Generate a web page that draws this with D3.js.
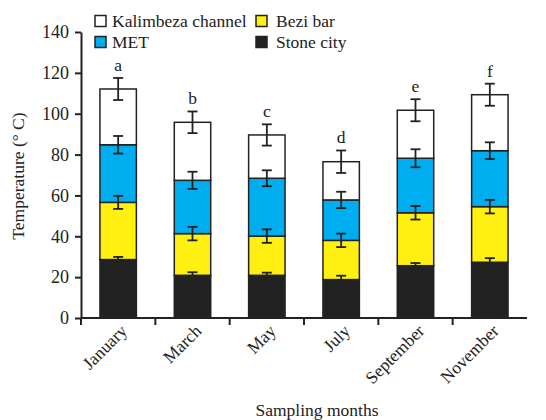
<!DOCTYPE html>
<html>
<head>
<meta charset="utf-8">
<script src="https://cdn.jsdelivr.net/npm/d3@7"></script>
<style>
  body { margin: 0; background: #fff; }
</style>
</head>
<body>
<svg id="chart" width="546" height="420"></svg>
<script>
// months on the x axis
const months = ["January", "March", "May", "July", "September", "November"];
// stacked from the bottom up
const seriesNames = ["Stone city", "Bezi bar", "MET", "Kalimbeza channel"];
const stoneCity = [28.6, 20.9, 20.9, 18.8, 25.6, 27.3];
const beziBar = [28.0, 20.4, 19.2, 19.2, 25.9, 27.2];
const met = [28.2, 26.1, 28.3, 19.8, 26.7, 27.4];
const kalimbeza = [27.3, 28.4, 21.2, 18.7, 23.5, 27.4];
// error bar half lengths
const stoneErr = [1.3, 1.5, 1.3, 1.9, 1.3, 2.0];
const beziErr = [3.2, 3.3, 3.3, 3.3, 3.3, 3.3];
const metErr = [4.3, 4.2, 3.9, 4.0, 4.4, 4.1];
const kalErr = [5.4, 5.3, 5.2, 5.5, 5.4, 5.4];
const letters = ["a", "b", "c", "d", "e", "f"];
const yTicks = [0, 20, 40, 60, 80, 100, 120, 140];

const FONT = "'Liberation Serif', 'Times New Roman', serif";
const INK = "#222";

const colors = {
  "Stone city": "#222222",
  "Bezi bar": "#fff011",
  "MET": "#00aeef",
  "Kalimbeza channel": "#ffffff"
};

const values = [stoneCity, beziBar, met, kalimbeza];
const errs = [stoneErr, beziErr, metErr, kalErr];

const rows = months.map((m, i) => {
  const r = { month: m };
  seriesNames.forEach((s, k) => { r[s] = values[k][i]; });
  return r;
});

const stack = d3.stack().keys(seriesNames)(rows);

const margin = { left: 81, right: 19, top: 32, bottom: 102 };
const width = 546, height = 420;
const svg = d3.select("#chart");

const x = d3.scaleBand()
  .domain(months)
  .range([margin.left, width - margin.right])
  .paddingInner(0.51)
  .paddingOuter(0.255);

const y = d3.scaleLinear()
  .domain([0, 140])
  .range([height - margin.bottom, margin.top]);

// bars
stack.forEach((layer) => {
  svg.append("g")
    .selectAll("rect")
    .data(layer)
    .enter()
    .append("rect")
    .attr("x", (d) => x(d.data.month))
    .attr("y", (d) => y(d[1]))
    .attr("width", x.bandwidth())
    .attr("height", (d) => y(d[0]) - y(d[1]))
    .attr("fill", colors[layer.key])
    .attr("stroke", INK)
    .attr("stroke-width", 1.5);
});

// error bars on top of every segment
const capW = 5;
stack.forEach((layer, k) => {
  const g = svg.append("g").attr("stroke", INK).attr("stroke-width", 1.8);
  layer.forEach((d, i) => {
    const cx = x(d.data.month) + x.bandwidth() / 2;
    const hi = y(d[1] + errs[k][i]);
    const lo = y(d[1] - errs[k][i]);
    g.append("line").attr("x1", cx).attr("x2", cx).attr("y1", hi).attr("y2", lo);
    g.append("line").attr("x1", cx - capW).attr("x2", cx + capW).attr("y1", hi).attr("y2", hi);
    g.append("line").attr("x1", cx - capW).attr("x2", cx + capW).attr("y1", lo).attr("y2", lo);
  });
});

// significance letters
const topLayer = stack[stack.length - 1];
svg.append("g")
  .selectAll("text")
  .data(topLayer)
  .enter()
  .append("text")
  .attr("x", (d) => x(d.data.month) + x.bandwidth() / 2)
  .attr("y", (d, i) => y(d[1] + kalErr[i]) - 7)
  .attr("text-anchor", "middle")
  .style("font-family", FONT)
  .style("font-size", "17.5px")
  .style("fill", INK)
  .text((d, i) => letters[i]);

// y axis
const yAxis = svg.append("g")
  .attr("transform", `translate(${margin.left},0)`)
  .call(d3.axisLeft(y).tickValues(yTicks).tickSize(6).tickPadding(6).tickSizeOuter(0));
yAxis.select(".domain").attr("stroke", INK).attr("stroke-width", 2);
yAxis.selectAll(".tick line").attr("stroke", INK).attr("stroke-width", 2);
yAxis.selectAll("text")
  .style("font-family", FONT)
  .style("font-size", "18px")
  .style("fill", INK);

// x axis: line plus ticks at band boundaries
const x0 = y(0);
svg.append("line")
  .attr("x1", margin.left).attr("x2", width - margin.right)
  .attr("y1", x0).attr("y2", x0)
  .attr("stroke", INK).attr("stroke-width", 2);
const gap = (x.step() - x.bandwidth()) / 2;
svg.append("g")
  .selectAll("line")
  .data(months)
  .enter()
  .append("line")
  .attr("x1", (d) => x(d) - gap)
  .attr("x2", (d) => x(d) - gap)
  .attr("y1", x0)
  .attr("y2", x0 + 7)
  .attr("stroke", INK)
  .attr("stroke-width", 2);

svg.append("g")
  .selectAll("text")
  .data(months)
  .enter()
  .append("text")
  .attr("transform", (d) => `translate(${x(d) + x.bandwidth() / 2 + 10},${x0 + 14}) rotate(-45)`)
  .attr("text-anchor", "end")
  .style("font-family", FONT)
  .style("font-size", "17.5px")
  .style("fill", INK)
  .text((d) => d);

// axis titles
svg.append("text")
  .attr("x", 317)
  .attr("y", 416)
  .attr("text-anchor", "middle")
  .style("font-family", FONT)
  .style("font-size", "17.5px")
  .style("fill", INK)
  .text("Sampling months");

svg.append("text")
  .attr("transform", `translate(24,176) rotate(-90)`)
  .attr("text-anchor", "middle")
  .style("font-family", FONT)
  .style("font-size", "17.5px")
  .style("fill", INK)
  .text("Temperature (° C)");

// legend
const legendItems = [
  { name: "Kalimbeza channel", col: 0, row: 0 },
  { name: "Bezi bar", col: 1, row: 0 },
  { name: "MET", col: 0, row: 1 },
  { name: "Stone city", col: 1, row: 1 }
];
const colX = [95, 256];
const rowY = [21, 42];
const legend = svg.append("g");
legendItems.forEach((it) => {
  legend.append("rect")
    .attr("x", colX[it.col])
    .attr("y", rowY[it.row] - 5.5)
    .attr("width", 11)
    .attr("height", 11)
    .attr("fill", colors[it.name])
    .attr("stroke", INK)
    .attr("stroke-width", 1.5);
  legend.append("text")
    .attr("x", colX[it.col] + (it.col === 0 ? 17 : 20))
    .attr("y", rowY[it.row] + 6)
    .style("font-family", FONT)
    .style("font-size", "17.5px")
    .style("fill", INK)
    .text(it.name);
});
</script>
</body>
</html>
